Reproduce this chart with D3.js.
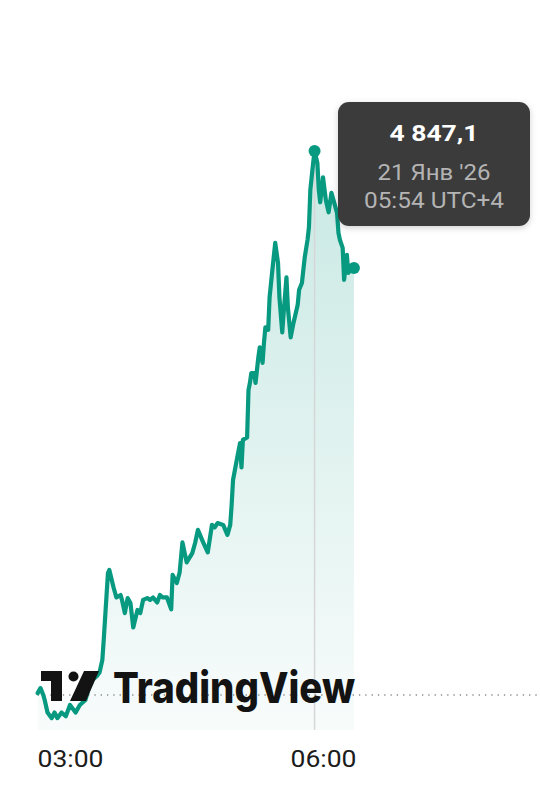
<!DOCTYPE html>
<html>
<head>
<meta charset="utf-8">
<script src="https://cdn.jsdelivr.net/npm/d3@7/dist/d3.min.js"></script>
<style>
  html, body { margin: 0; padding: 0; background: #fff; }
  svg { display: block; }
</style>
</head>
<body>
<svg id="chart" width="540" height="786"></svg>
<script>
// ---- data ----
const times = ["02:37","02:39","02:41","02:42","02:44","02:47","02:49","02:51","02:54","02:57",
  "03:00","03:04","03:07","03:11","03:13","03:16","03:19","03:21","03:23","03:24",
  "03:25","03:27","03:28","03:31","03:33","03:36","03:37","03:39","03:41","03:43",
  "03:45","03:48","03:50","03:52","03:55","03:57","03:59","04:02","04:04","04:06",
  "04:09","04:12","04:13","04:16","04:18","04:20","04:23","04:27","04:29","04:31",
  "04:34","04:35","04:38","04:41","04:43","04:45","04:49","04:52","04:54","04:55",
  "04:56","04:59","05:01","05:02","05:03","05:06","05:07","05:08","05:09","05:11",
  "05:12","05:14","05:15","05:17","05:18","05:19","05:21","05:22","05:24","05:26",
  "05:28","05:29","05:31","05:32","05:34","05:35","05:37","05:39","05:42","05:43",
  "05:45","05:47","05:49","05:50","05:51","05:53","05:54","05:56","05:57","05:58",
  "06:00","06:02","06:04","06:06","06:07","06:10","06:11","06:12","06:14","06:15",
  "06:17","06:18","06:20","06:22"];
const prices = [4760.4,4761.2,4760.1,4759.3,4757.3,4756.4,4757.3,4756.4,4757.3,4756.7,
  4758.5,4757.3,4758.5,4759.3,4760.9,4762.5,4763.1,4763.7,4765.7,4768.9,
  4772.5,4779.6,4780.1,4777.3,4775.7,4776.1,4775.3,4773.2,4775.6,4774.8,
  4770.9,4773.7,4773.2,4775.3,4775.6,4775.3,4775.7,4774.9,4776.1,4775.7,
  4775.7,4773.8,4779.3,4778.0,4779.7,4784.5,4781.3,4782.8,4784.4,4786.5,
  4784.9,4784.4,4782.9,4787.3,4786.9,4787.6,4787.3,4785.7,4787.3,4790.5,
  4794.5,4798.1,4800.4,4796.5,4800.9,4801.3,4808.9,4810.0,4811.6,4811.6,
  4810.0,4814.1,4815.7,4813.2,4816.4,4818.9,4818.5,4823.7,4828.1,4832.4,
  4829.2,4823.7,4818.1,4821.2,4826.9,4822.1,4817.3,4819.6,4822.5,4824.9,
  4826.0,4830.1,4832.9,4834.9,4840.9,4845.2,4847.1,4845.2,4840.9,4838.9,
  4842.9,4839.3,4837.3,4840.4,4839.6,4837.2,4834.0,4832.9,4831.6,4826.5,
  4830.5,4827.6,4828.4,4828.4];
const prevClose = 4760.1;
const tickLabels = ["03:00","06:00"];
const hoverTime = "05:54";
const tooltipPrice = "4 847,1";
const tooltipDate = "21 Янв '26";
const tooltipTime = "05:54 UTC+4";

// ---- setup ----
const parse = d3.timeParse("%H:%M");
const data = times.map((t, i) => ({ t: parse(t), v: prices[i] }));
const svg = d3.select("#chart");
const green = "#089981";

const x = d3.scaleTime()
  .domain([parse("03:00"), parse("06:00")])
  .range([70, 323]);
const maxV = d3.max(prices);
const y = d3.scaleLinear()
  .domain([prevClose, maxV])
  .range([695, 151]);
const bottomY = 730;

// gradient
const defs = svg.append("defs");
const grad = defs.append("linearGradient")
  .attr("id", "fillGrad").attr("gradientUnits", "userSpaceOnUse")
  .attr("x1", 0).attr("x2", 0).attr("y1", y(maxV)).attr("y2", bottomY);
grad.append("stop").attr("offset", "0%").attr("stop-color", green).attr("stop-opacity", 0.22);
grad.append("stop").attr("offset", "100%").attr("stop-color", green).attr("stop-opacity", 0.03);

const shadow = defs.append("filter").attr("id", "shadow")
  .attr("x", "-20%").attr("y", "-20%").attr("width", "140%").attr("height", "150%");
shadow.append("feDropShadow").attr("dx", 0).attr("dy", 2).attr("stdDeviation", 3)
  .attr("flood-color", "#000").attr("flood-opacity", 0.18);

// area
svg.append("path").datum(data)
  .attr("fill", "url(#fillGrad)")
  .attr("d", d3.area().x(d => x(d.t)).y0(bottomY).y1(d => y(d.v)));

// crosshair
const hoverPoint = data[times.indexOf(hoverTime)];
const hx = x(hoverPoint.t);
svg.append("line")
  .attr("x1", hx).attr("x2", hx)
  .attr("y1", y(hoverPoint.v)).attr("y2", bottomY)
  .attr("stroke", "#d6d6d6").attr("stroke-width", 1.5);

// previous close dotted line
svg.append("line")
  .attr("x1", x(data[0].t)).attr("x2", 540)
  .attr("y1", y(prevClose)).attr("y2", y(prevClose))
  .attr("stroke", "#8a8a8a").attr("stroke-width", 1.3)
  .attr("stroke-dasharray", "1.3,5");

// line
svg.append("path").datum(data)
  .attr("fill", "none").attr("stroke", green)
  .attr("stroke-width", 4.2).attr("stroke-linejoin", "round").attr("stroke-linecap", "round")
  .attr("d", d3.line().x(d => x(d.t)).y(d => y(d.v)));

// dots
const last = data[data.length - 1];
[hoverPoint, last].forEach(d => {
  svg.append("circle").attr("cx", x(d.t)).attr("cy", y(d.v)).attr("r", 6).attr("fill", green);
});

// logo
const logo = svg.append("g").attr("fill", "#131313");
logo.append("path").attr("d", "M41,671 H62 V701 H51 V681 H41 Z");
logo.append("circle").attr("cx", 73.5).attr("cy", 676.5).attr("r", 5);
logo.append("path").attr("d", "M84,671 H99 L86,701 H70 Z");
logo.append("text")
  .attr("x", 113).attr("y", 703)
  .attr("font-family", "Inter, 'Open Sans', sans-serif")
  .attr("font-weight", 800).attr("font-size", 43)
  .attr("textLength", 242).attr("lengthAdjust", "spacingAndGlyphs")
  .text("TradingView");

// axis
const axis = d3.axisBottom(x)
  .tickValues(tickLabels.map(parse))
  .tickFormat(d3.timeFormat("%H:%M"))
  .tickSize(0).tickPadding(0);
const ax = svg.append("g").attr("transform", "translate(0,751)").call(axis);
ax.select(".domain").remove();
ax.selectAll("text")
  .attr("fill", "#1c1c1c")
  .attr("font-family", "Roboto, 'Noto Sans', sans-serif")
  .attr("font-size", 23)
  .attr("textLength", 66).attr("lengthAdjust", "spacingAndGlyphs")
  .attr("dy", "0.71em");

// tooltip
const tip = svg.append("g");
tip.append("rect")
  .attr("x", 338).attr("y", 102).attr("width", 192).attr("height", 124)
  .attr("rx", 11).attr("fill", "#3b3b3b").attr("filter", "url(#shadow)");
const tipFont = "Roboto, 'Noto Sans', sans-serif";
tip.append("text").attr("x", 434).attr("y", 141)
  .attr("text-anchor", "middle").attr("fill", "#ffffff")
  .attr("font-family", tipFont)
  .attr("font-weight", 700).attr("font-size", 22)
  .attr("textLength", 89).attr("lengthAdjust", "spacingAndGlyphs")
  .text(tooltipPrice);
tip.append("text").attr("x", 434).attr("y", 180)
  .attr("text-anchor", "middle").attr("fill", "#b4b4b4")
  .attr("font-family", tipFont)
  .attr("font-size", 22)
  .attr("textLength", 113).attr("lengthAdjust", "spacingAndGlyphs")
  .text(tooltipDate);
tip.append("text").attr("x", 434).attr("y", 208)
  .attr("text-anchor", "middle").attr("fill", "#b4b4b4")
  .attr("font-family", tipFont)
  .attr("font-size", 22)
  .attr("textLength", 140).attr("lengthAdjust", "spacingAndGlyphs")
  .text(tooltipTime);
</script>
</body>
</html>
